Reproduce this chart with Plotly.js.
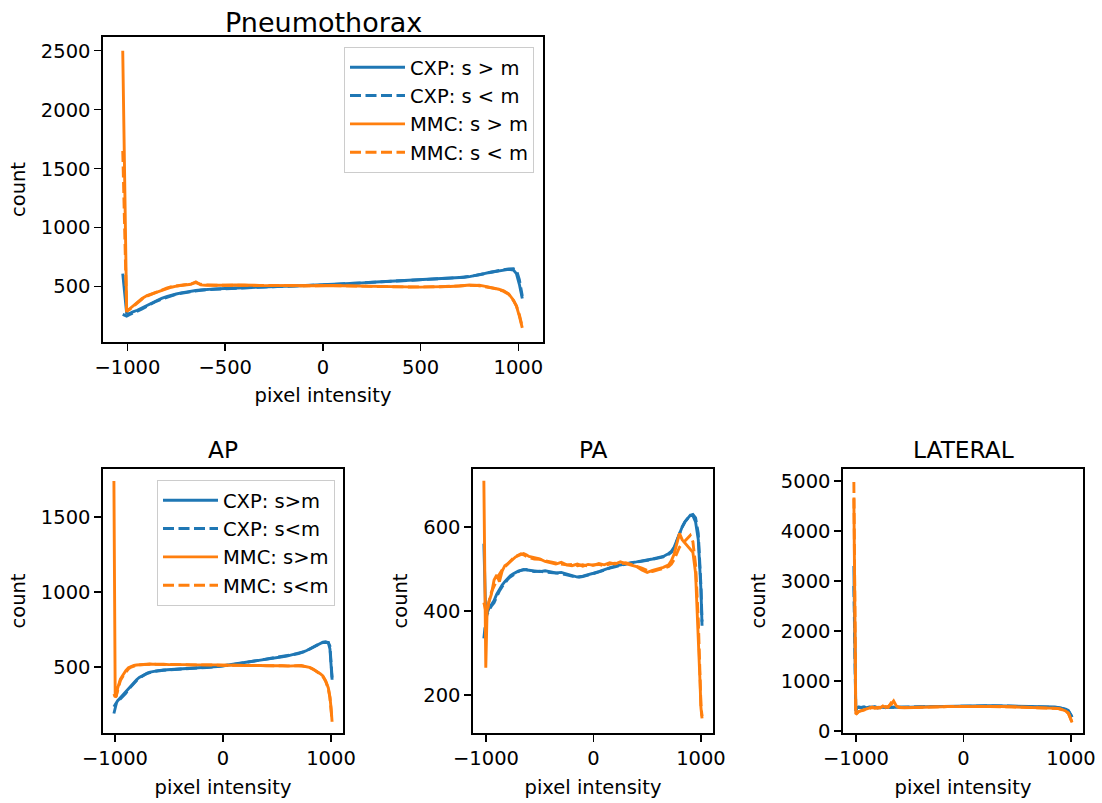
<!DOCTYPE html>
<html><head><meta charset="utf-8">
<script src="https://cdn.plot.ly/plotly-3.0.1.min.js"></script>
<style>html,body{margin:0;padding:0;background:#fff}#chart{width:1102px;height:803px}</style>
</head><body><div id="chart"></div>
<script>
// ---------------- data ----------------
const SUBPLOT_TITLES = ['Pneumothorax', 'AP', 'PA', 'LATERAL'];
const NAMES_TOP = ['CXP: s &gt; m', 'CXP: s &lt; m', 'MMC: s &gt; m', 'MMC: s &lt; m'];
const NAMES_AP  = ['CXP: s&gt;m', 'CXP: s&lt;m', 'MMC: s&gt;m', 'MMC: s&lt;m'];

const X_TOP = [-1024,-1004,-990,-975,-950,-925,-900,-875,-850,-825,-800,-775,-750,-725,-700,-675,-650,-625,-600,
  -550,-500,-450,-400,-350,-300,-250,-200,-150,-100,-50,0,50,100,150,200,250,300,350,400,450,500,550,600,650,700,
  725,750,775,800,825,850,875,900,925,950,975,990,1005,1020];
const X_AP = [-1010,-998,-988,-975,-950,-925,-900,-875,-850,-825,-800,-775,-750,-725,-700,-675,-650,-625,-600,
  -550,-500,-450,-400,-350,-300,-250,-200,-150,-100,-50,0,50,100,150,200,250,300,350,400,450,500,550,600,650,700,
  725,750,775,800,825,850,875,900,925,950,975,990,1000,1010];
const X_PA_LAT = [-1020,-1002,-990,-975,-950,-925,-900,-875,-850,-825,-800,-775,-750,-725,-700,-675,-650,-625,-600,
  -550,-500,-450,-400,-350,-300,-250,-200,-150,-100,-50,0,50,100,150,200,250,300,350,400,450,500,550,600,650,700,
  725,750,775,800,825,850,875,900,925,950,975,990,1000,1010];

// Pneumothorax
const TOP_CXP_GT = [610,275,270,285,300,320,345,365,385,400,415,428,438,447,455,462,467,472,476,
  481,485,489,493,496,498,500,503,506,509,512,516,520,524,528,532,537,541,545,550,555,560,564,568,572,577,
  580,585,592,600,610,620,628,636,642,646,640,610,520,400];
const TOP_CXP_LT = [265,250,262,272,292,310,335,358,378,395,410,424,435,444,452,459,465,470,474,
  479,484,488,492,494,497,499,501,504,507,510,514,519,523,527,532,536,540,545,549,554,559,563,567,572,578,
  582,587,593,601,611,621,630,638,645,650,652,640,560,420];
const TOP_MMC_GT = [2500,300,310,330,360,400,425,440,450,470,485,495,505,510,515,520,540,515,512,
  515,512,514,510,512,509,511,508,510,508,510,512,510,508,506,505,503,500,501,498,499,496,498,497,502,506,
  510,514,510,512,505,498,490,478,465,440,385,335,250,150];
const TOP_MMC_LT = [1650,290,305,325,355,395,420,438,455,475,488,500,508,512,518,525,535,520,515,
  512,514,510,512,510,511,508,510,507,509,508,511,509,507,505,504,502,501,499,500,497,498,496,499,503,508,
  510,512,513,508,502,494,486,474,460,436,382,338,262,160];

// AP
const AP_CXP_GT = [235,250,262,275,295,315,335,360,380,398,415,430,442,452,460,466,470,473,476,
  480,482,485,487,489,491,493,495,498,500,503,508,513,518,523,530,535,540,546,551,556,562,568,574,582,590,
  596,602,610,620,630,640,650,658,665,668,662,620,520,415];
const AP_CXP_LT = [190,240,255,268,285,305,325,350,372,392,410,425,438,448,457,464,468,472,475,
  478,481,484,486,488,490,492,494,497,499,502,507,512,517,523,529,534,540,545,550,556,561,567,573,581,589,
  595,601,609,619,629,639,649,657,663,666,664,640,550,430];
const AP_MMC_GT = [1740,300,305,360,420,450,475,495,505,510,513,515,516,517,518,520,518,519,517,
  518,516,517,515,516,514,515,513,514,513,514,512,513,511,512,510,511,509,510,508,509,507,508,506,508,507,
  510,505,502,498,490,480,470,455,440,410,360,300,230,135];
const AP_MMC_LT = [320,300,310,350,410,440,465,488,500,507,511,514,516,518,519,520,519,518,518,
  517,518,516,516,515,515,514,514,513,513,512,513,512,512,511,511,510,510,509,509,508,508,507,507,507,508,
  508,506,503,497,489,478,466,452,436,405,355,295,225,140];

// PA
const PA_CXP_GT = [560,385,395,405,415,425,440,452,462,470,478,484,488,492,495,497,498,499,497,
  496,494,496,493,491,492,488,484,481,483,486,490,494,499,503,507,510,513,515,517,519,521,524,527,530,537,
  542,552,568,585,600,612,621,628,627,612,570,510,450,365];
const PA_CXP_LT = [335,380,392,400,412,420,436,448,458,467,475,481,486,491,494,497,499,498,496,
  494,495,493,492,490,489,486,483,480,482,485,489,493,498,502,505,509,512,514,516,518,520,523,526,529,535,
  540,550,567,585,600,612,621,628,630,622,585,525,460,375];
const PA_MMC_GT = [710,265,400,420,440,474,486,470,495,508,512,518,524,529,532,535,537,534,530,
  527,524,518,515,512,516,510,508,512,507,511,509,513,510,515,512,517,513,510,506,498,492,497,500,504,510,
  520,535,560,585,570,562,556,548,540,490,350,240,170,145];
const PA_MMC_LT = [420,400,395,420,445,460,472,488,498,505,512,518,525,530,533,536,534,530,527,
  524,523,520,517,515,512,510,511,508,510,507,510,511,508,512,514,512,515,511,507,502,497,494,498,501,506,
  512,522,538,552,560,567,574,580,565,510,380,250,175,150];

// LATERAL
const LAT_CXP_GT = [3300,420,470,480,470,485,465,480,470,485,460,475,480,470,475,480,470,478,475,
  470,478,482,485,488,490,492,495,497,498,500,502,503,505,506,507,506,505,503,500,498,496,495,494,493,492,
  492,491,490,488,485,480,472,462,450,435,410,370,320,280];
const LAT_CXP_LT = [2900,400,460,475,465,480,470,475,465,480,470,470,485,465,480,475,475,470,478,
  472,475,480,484,487,489,491,494,496,497,499,501,502,504,505,506,505,504,502,499,497,495,494,493,492,491,
  491,490,489,487,484,479,471,461,449,433,408,368,318,275];
const LAT_MMC_GT = [4650,340,360,390,410,430,445,455,480,455,470,460,500,470,490,530,600,500,470,
  465,470,475,478,480,482,484,486,488,490,491,492,493,494,494,495,494,492,490,487,484,480,478,476,475,474,
  473,472,470,468,465,460,452,440,425,400,360,300,230,170];
const LAT_MMC_LT = [4980,330,355,385,405,425,440,450,470,465,460,475,480,490,475,560,520,490,475,
  468,472,474,477,479,481,483,485,487,489,490,491,492,493,493,494,493,491,489,486,483,479,477,475,474,473,
  472,471,469,467,464,459,451,439,423,398,358,298,228,175];

// tick labels
const XT_TOP_VALS = [-1000,-500,0,500,1000];
const XT_TOP_TEXT = ['\u22121000','\u2212500','0','500','1000'];
const XT_BOT_VALS = [-1000,0,1000];
const XT_BOT_TEXT = ['\u22121000','0','1000'];
const YT_TOP_VALS = [500,1000,1500,2000,2500];
const YT_AP_VALS = [500,1000,1500];
const YT_PA_VALS = [200,400,600];
const YT_LAT_VALS = [0,1000,2000,3000,4000,5000];

// ---------------- styling ----------------
const FONT = 'DejaVu Sans';
const BLUE = '#1f77b4', ORANGE = '#ff7f0e';
const LW = 2.9;
const DASH = '11px,4.5px';
const STYLES = [
  {color: BLUE, dash: 'solid'}, {color: BLUE, dash: DASH},
  {color: ORANGE, dash: 'solid'}, {color: ORANGE, dash: DASH}
];

const panels = [
  {x: X_TOP, ys: [TOP_CXP_GT, TOP_CXP_LT, TOP_MMC_GT, TOP_MMC_LT], names: NAMES_TOP, legend: 'legend'},
  {x: X_AP, ys: [AP_CXP_GT, AP_CXP_LT, AP_MMC_GT, AP_MMC_LT], names: NAMES_AP, legend: 'legend2'},
  {x: X_PA_LAT, ys: [PA_CXP_GT, PA_CXP_LT, PA_MMC_GT, PA_MMC_LT], names: NAMES_AP, legend: null},
  {x: X_PA_LAT, ys: [LAT_CXP_GT, LAT_CXP_LT, LAT_MMC_GT, LAT_MMC_LT], names: NAMES_AP, legend: null}
];

const traces = [];
panels.forEach((p, i) => {
  const ax = i === 0 ? '' : String(i + 1);
  p.ys.forEach((y, k) => {
    const t = {
      type: 'scatter', mode: 'lines', x: p.x, y: y, name: p.names[k],
      xaxis: 'x' + ax, yaxis: 'y' + ax,
      line: {color: STYLES[k].color, dash: STYLES[k].dash, width: LW},
      showlegend: !!p.legend, hoverinfo: 'skip'
    };
    if (p.legend) { t.legend = p.legend; t.legendgroup = 'g' + i + k; }
    traces.push(t);
  });
});

function axis(extra) {
  return Object.assign({
    showline: true, linecolor: '#000', linewidth: 1.6, mirror: true,
    ticks: 'outside', ticklen: 7, tickwidth: 1.6, tickcolor: '#000',
    showgrid: false, zeroline: false, tickmode: 'array', fixedrange: true,
    tickfont: {family: FONT, size: 19.5, color: '#000'}
  }, extra);
}
const xTitle = (s) => ({text: 'pixel intensity', font: {family: FONT, size: 19.5, color: '#000'}, standoff: s});
const yTitle = () => ({text: 'count', font: {family: FONT, size: 19.5, color: '#000'}, standoff: 10});

const W = 1102, H = 803;
const fx = (a, b) => [a / W, b / W];
const fy = (top, bot) => [(H - bot) / H, (H - top) / H];

const legendBase = {
  font: {family: FONT, size: 19.5, color: '#000'},
  bgcolor: 'rgba(255,255,255,0.8)', bordercolor: '#cccccc', borderwidth: 1,
  xref: 'paper', yref: 'paper', xanchor: 'left', yanchor: 'top',
  tracegroupgap: 0, itemwidth: 55, itemclick: false, itemdoubleclick: false
};

const layout = {
  width: W, height: H, margin: {l: 0, r: 0, t: 0, b: 0},
  paper_bgcolor: '#fff', plot_bgcolor: '#fff',
  font: {family: FONT, color: '#000'},
  xaxis:  axis({domain: fx(103, 543), range: [-1125, 1126], anchor: 'y',  tickvals: XT_TOP_VALS, ticktext: XT_TOP_TEXT, title: xTitle(10)}),
  yaxis:  axis({domain: fy(37, 342),  range: [31, 2616],    anchor: 'x',  tickvals: YT_TOP_VALS, ticktext: YT_TOP_VALS.map(String), title: yTitle()}),
  xaxis2: axis({domain: fx(103, 343), range: [-1111, 1111], anchor: 'y2', tickvals: XT_BOT_VALS, ticktext: XT_BOT_TEXT, title: xTitle(11)}),
  yaxis2: axis({domain: fy(469, 733), range: [60, 1820],    anchor: 'x2', tickvals: YT_AP_VALS, ticktext: YT_AP_VALS.map(String), title: yTitle()}),
  xaxis3: axis({domain: fx(473, 713), range: [-1121, 1112], anchor: 'y3', tickvals: XT_BOT_VALS, ticktext: XT_BOT_TEXT, title: xTitle(11)}),
  yaxis3: axis({domain: fy(469, 733), range: [110, 738],    anchor: 'x3', tickvals: YT_PA_VALS, ticktext: YT_PA_VALS.map(String), title: yTitle()}),
  xaxis4: axis({domain: fx(843, 1083), range: [-1121, 1112], anchor: 'y4', tickvals: XT_BOT_VALS, ticktext: XT_BOT_TEXT, title: xTitle(11)}),
  yaxis4: axis({domain: fy(469, 733), range: [-40, 5240],   anchor: 'x4', tickvals: YT_LAT_VALS, ticktext: YT_LAT_VALS.map(String), title: yTitle()}),
  legend:  Object.assign({}, legendBase, {x: 344 / W, y: (H - 47) / H}),
  legend2: Object.assign({}, legendBase, {x: 157 / W, y: (H - 480) / H}),
  annotations: [
    {text: SUBPLOT_TITLES[0], x: 323 / W, y: (H - 22) / H, xref: 'paper', yref: 'paper', xanchor: 'center', yanchor: 'middle', showarrow: false, font: {family: FONT, size: 27, color: '#000'}},
    {text: SUBPLOT_TITLES[1], x: 223 / W, y: (H - 449) / H, xref: 'paper', yref: 'paper', xanchor: 'center', yanchor: 'middle', showarrow: false, font: {family: FONT, size: 23.3, color: '#000'}},
    {text: SUBPLOT_TITLES[2], x: 593 / W, y: (H - 449) / H, xref: 'paper', yref: 'paper', xanchor: 'center', yanchor: 'middle', showarrow: false, font: {family: FONT, size: 23.3, color: '#000'}},
    {text: SUBPLOT_TITLES[3], x: 963 / W, y: (H - 449) / H, xref: 'paper', yref: 'paper', xanchor: 'center', yanchor: 'middle', showarrow: false, font: {family: FONT, size: 23.3, color: '#000'}}
  ]
};

Plotly.newPlot('chart', traces, layout, {displayModeBar: false, staticPlot: true});
</script></body></html>
